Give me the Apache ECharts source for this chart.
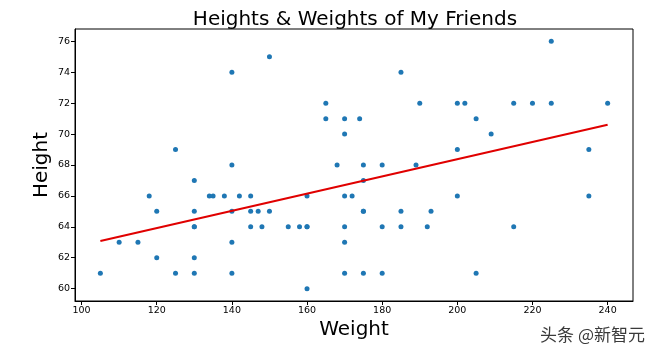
<!DOCTYPE html>
<html>
<head>
<meta charset="utf-8">
<script src="https://cdn.jsdelivr.net/npm/echarts@6/dist/echarts.min.js"></script>
<style>
  html, body { margin: 0; padding: 0; background: #fff; }
  #chart { width: 655px; height: 354px; }
</style>
</head>
<body>
<div id="chart"></div>
<script>
// data
const weights = [105, 110, 115, 118, 120, 120, 125, 125, 130, 130, 130, 130, 130, 130, 134, 135, 138,
  140, 140, 140, 140, 140, 142, 145, 145, 147, 150, 145, 148, 150, 155, 158, 160, 160, 160, 160,
  165, 165, 168, 170, 170, 170, 172, 170, 170, 170, 174, 175, 175, 175, 175, 175, 180, 180, 180,
  185, 185, 185, 189, 190, 192, 193, 200, 200, 200, 202, 205, 205, 209, 215, 215, 220, 225, 225,
  235, 235, 240];
const heights = [61, 63, 63, 66, 65, 62, 69, 61, 67, 65, 64, 64, 62, 61, 66, 66, 66,
  74, 68, 65, 63, 61, 66, 66, 65, 65, 65, 64, 64, 75, 64, 64, 64, 64, 66, 60,
  72, 71, 68, 71, 70, 66, 66, 64, 63, 61, 71, 68, 67, 65, 65, 61, 68, 64, 61,
  74, 65, 64, 68, 72, 64, 65, 72, 69, 66, 72, 71, 61, 70, 72, 64, 72, 76, 72,
  69, 66, 72];
// fitted line end points, as drawn
const fitX = [105, 240];
const fitY = [63.08, 70.6];

const xTicks = [100, 120, 140, 160, 180, 200, 220, 240];
const yTicks = [60, 62, 64, 66, 68, 70, 72, 74, 76];

const font = 'DejaVu Sans';
const chart = echarts.init(document.getElementById('chart'), null, { renderer: 'canvas' });

chart.setOption({
  animation: false,
  title: {
    text: 'Heights & Weights of My Friends',
    left: 350,
    textAlign: 'center',
    top: 5,
    textStyle: { fontFamily: font, fontSize: 20, fontWeight: 'normal', color: '#000' }
  },
  grid: {
    left: 75, right: 22, top: 29, bottom: 53,
    show: true, borderColor: '#000', borderWidth: 1, backgroundColor: '#fff'
  },
  xAxis: {
    type: 'value',
    min: 98.25, max: 246.75,
    name: 'Weight',
    nameLocation: 'middle',
    nameGap: 19,
    nameMoveOverlap: false,
    nameTextStyle: { fontFamily: font, fontSize: 20, color: '#000' },
    splitLine: { show: false },
    axisLine: { show: true, onZero: false, lineStyle: { color: '#000', width: 1 } },
    axisTick: { show: true, length: 4, customValues: xTicks, lineStyle: { color: '#000' } },
    axisLabel: { customValues: xTicks, fontFamily: font, fontSize: 9.5, color: '#000', margin: 5 }
  },
  yAxis: {
    type: 'value',
    min: 59.2, max: 76.8,
    name: 'Height',
    nameLocation: 'middle',
    nameGap: 23,
    nameMoveOverlap: false,
    nameTextStyle: { fontFamily: font, fontSize: 20, color: '#000' },
    splitLine: { show: false },
    axisLine: { show: true, onZero: false, lineStyle: { color: '#000', width: 1 } },
    axisTick: { show: true, length: 4, customValues: yTicks, lineStyle: { color: '#000' } },
    axisLabel: { customValues: yTicks, fontFamily: font, fontSize: 9.5, color: '#000', margin: 5 }
  },
  series: [
    {
      type: 'scatter',
      data: weights.map((w, i) => [w, heights[i]]),
      symbolSize: 5,
      itemStyle: { color: '#1f77b4', opacity: 1 },
      z: 2
    },
    {
      type: 'line',
      data: fitX.map((x, i) => [x, fitY[i]]),
      showSymbol: false,
      lineStyle: { color: '#e00000', width: 2 },
      z: 3
    }
  ],
  graphic: [
    {
      type: 'text',
      right: 10,
      top: 326,
      style: {
        text: '头条 @新智元',
        fontFamily: 'Noto Sans CJK SC',
        fontSize: 17,
        fill: '#3a3a3a'
      }
    }
  ]
});
</script>
</body>
</html>
